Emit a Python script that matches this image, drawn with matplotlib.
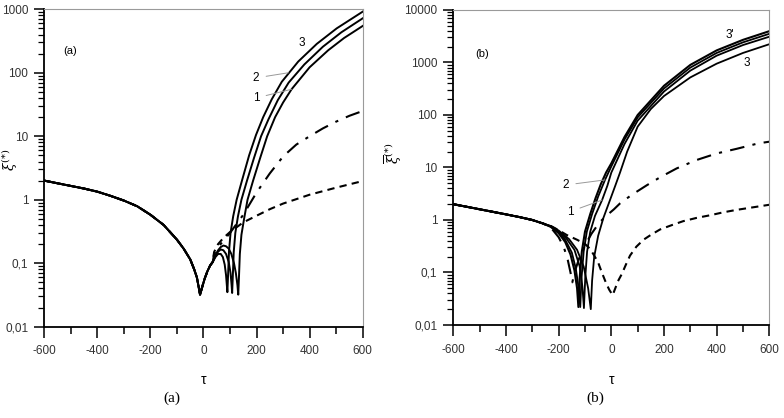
import matplotlib
matplotlib.use("Agg")
import matplotlib.pyplot as plt
from matplotlib.ticker import FixedLocator, NullFormatter, LogLocator

plt.rcParams['font.family'] = ['Liberation Sans', 'DejaVu Sans']
plt.rcParams['mathtext.fontset'] = 'dejavuserif'

# ---------------- panel (a) ----------------
# common left part (all curves together up to the first dip)
a_left_t = [-600, -500, -450, -400, -350, -300, -250, -200, -150, -100, -75, -50, -35, -25, -18, -13,
            -5, 5, 15, 25, 35]
a_left_x = [2.0, 1.65, 1.5, 1.34, 1.15, 0.97, 0.79, 0.58, 0.4, 0.235, 0.17, 0.115, 0.08, 0.06, 0.042, 0.032,
            0.042, 0.058, 0.075, 0.092, 0.105]

a3_t = [45, 55, 65, 73, 80, 85, 88, 90, 93, 96, 102, 112, 125, 145, 172, 198, 225, 257, 295, 357, 427, 502, 600]
a3_x = [0.125, 0.14, 0.14, 0.125, 0.095, 0.065, 0.045, 0.035, 0.07, 0.15, 0.3, 0.55, 1.0, 2.0, 5.0, 10.5, 20, 38, 72, 150, 285, 500, 917]

a2_t = [45, 55, 65, 75, 85, 95, 102, 106, 108, 111, 114, 120, 130, 143, 164, 190, 217, 245, 280, 321, 380, 450, 520, 600]
a2_x = [0.13, 0.152, 0.165, 0.16, 0.14, 0.105, 0.07, 0.045, 0.034, 0.07, 0.15, 0.3, 0.55, 1.0, 2.0, 4.5, 10, 18.5, 37, 70, 135, 257, 435, 720]

a1_t = [45, 55, 65, 75, 85, 95, 105, 115, 122, 128, 131, 134, 137, 143, 153, 166, 187, 214, 240, 270, 300, 332, 400, 470, 530, 600]
a1_x = [0.135, 0.16, 0.18, 0.19, 0.185, 0.17, 0.14, 0.1, 0.07, 0.045, 0.032, 0.065, 0.14, 0.28, 0.5, 1.0, 2.0, 4.6, 10, 20, 34, 55, 122, 226, 353, 546]

a_dash_t = [40, 55, 75, 100, 150, 200, 250, 300, 400, 500, 600]
a_dash_x = [0.15, 0.2, 0.25, 0.31, 0.44, 0.56, 0.71, 0.87, 1.2, 1.55, 1.97]

a_dd_t = [40, 60, 100, 150, 200, 250, 300, 350, 400, 450, 500, 550, 600]
a_dd_x = [0.14, 0.19, 0.3, 0.58, 1.3, 2.6, 4.8, 7.4, 10, 13.3, 17, 21, 25]

# ---------------- panel (b) ----------------
b_left_t = [-600, -500, -400, -350, -300, -260]
b_left_x = [2.0, 1.6, 1.28, 1.14, 1.0, 0.86]

b3p_t = [-230, -200, -175, -155, -140, -130, -125, -120, -112, -100, -80, -60, -40, -20, 0, 50, 100, 200, 300, 400, 500, 600]
b3p_x = [0.74, 0.56, 0.38, 0.22, 0.11, 0.05, 0.022, 0.08, 0.25, 0.6, 1.3, 2.6, 4.8, 8, 12, 38, 100, 360, 900, 1700, 2700, 3950]

b2_t = [-230, -200, -175, -150, -135, -124, -118, -113, -105, -93, -73, -50, -24, 0, 50, 100, 200, 300, 400, 500, 600]
b2_x = [0.75, 0.58, 0.42, 0.24, 0.12, 0.05, 0.022, 0.08, 0.25, 0.6, 1.3, 2.8, 5.8, 10.5, 34, 90, 320, 800, 1520, 2420, 3520]

b1_t = [-230, -200, -170, -140, -120, -110, -104, -99, -92, -80, -62, -35, -15, 0, 50, 100, 200, 300, 400, 500, 600]
b1_x = [0.76, 0.6, 0.44, 0.27, 0.13, 0.055, 0.021, 0.08, 0.25, 0.6, 1.2, 2.4, 4.5, 8, 28, 78, 280, 700, 1350, 2150, 3100]

b3_t = [-230, -200, -160, -130, -105, -88, -78, -73, -65, -50, -30, -5, 15, 33, 60, 100, 150, 200, 300, 400, 500, 600]
b3_x = [0.77, 0.63, 0.43, 0.27, 0.13, 0.05, 0.02, 0.07, 0.2, 0.5, 1.1, 2.4, 4.5, 8, 20, 60, 130, 230, 520, 950, 1520, 2230]

b_dash_t = [-230, -200, -170, -130, -100, -80, -65, -50, -36, -20, -8, 5, 15, 25, 40, 55, 71, 95, 122, 150, 185,
            230, 273, 325, 375, 425, 476, 540, 600]
b_dash_x = [0.77, 0.64, 0.52, 0.42, 0.35, 0.28, 0.21, 0.155, 0.1, 0.063, 0.047, 0.037, 0.05, 0.068, 0.094, 0.14, 0.21,
            0.31, 0.42, 0.52, 0.66, 0.8, 0.95, 1.1, 1.23, 1.4, 1.56, 1.75, 1.95]

b_dd_t = [-230, -200, -180, -165, -155, -148, -140, -120, -100, -75, -45, -15, 10, 33, 77, 135, 185, 248, 324, 400, 476, 558, 600]
b_dd_x = [0.72, 0.47, 0.3, 0.17, 0.1, 0.065, 0.1, 0.2, 0.33, 0.55, 0.9, 1.25, 1.6, 2.07, 3.0, 4.6, 6.5, 9.6, 13.9, 18.5, 22.7, 28.8, 31]

ytick_a = [0.01, 0.1, 1, 10, 100, 1000]
ytick_b = [0.01, 0.1, 1, 10, 100, 1000, 10000]
xtick = [-600, -400, -200, 0, 200, 400, 600]

DASH = (0, (3.5, 2.5))
DASHDOT = (0, (7, 4, 1.5, 4))


def estilo_ejes(ax, yticks):
    # ejes log con etiquetas con coma decimal
    ax.set_xlim(-600, 600)
    ax.set_yscale('log')
    ax.set_ylim(yticks[0], yticks[-1])
    ax.set_yticks(yticks)
    ax.set_yticklabels([str(v).replace('.', ',') for v in yticks])
    ax.yaxis.set_minor_locator(LogLocator(base=10, subs=range(2, 10), numticks=20))
    ax.yaxis.set_minor_formatter(NullFormatter())
    ax.set_xticks(xtick)
    ax.set_xticklabels([str(v) for v in xtick])
    ax.xaxis.set_minor_locator(FixedLocator(range(-500, 600, 200)))
    ax.tick_params(axis='y', which='major', direction='out', length=7, width=1.1, pad=4.5,
                   labelsize=8.5, labelcolor='#333333')
    ax.tick_params(axis='y', which='minor', direction='out', length=4.3, width=0.9)
    ax.tick_params(axis='x', which='major', direction='out', length=8, width=1.1, pad=5.5,
                   labelsize=8.5, labelcolor='#333333')
    ax.tick_params(axis='x', which='minor', direction='out', length=5, width=1.1)
    for s in ['left', 'bottom']:
        ax.spines[s].set_linewidth(1.3)
    for s in ['top', 'right']:
        ax.spines[s].set_color('#9a9a9a')
        ax.spines[s].set_linewidth(0.8)


fig = plt.figure(figsize=(7.84, 4.18), dpi=100)

# ----- (a) -----
axa = fig.add_axes([0.0565, 0.2184, 0.4061, 0.7594])
estilo_ejes(axa, ytick_a)
axa.plot(a_left_t + a_dash_t, a_left_x + a_dash_x, color='black', lw=1.5, ls=DASH)
axa.plot(a_left_t + a_dd_t, a_left_x + a_dd_x, color='black', lw=1.5, ls=DASHDOT)
axa.plot(a_left_t + a1_t, a_left_x + a1_x, color='black', lw=1.4)
axa.plot(a_left_t + a2_t, a_left_x + a2_x, color='black', lw=1.4)
axa.plot(a_left_t + a3_t, a_left_x + a3_x, color='black', lw=1.4)
axa.text(370, 292, '3', fontsize=8.5, ha='center', va='center')
axa.annotate('2', xy=(320, 100), xytext=(198, 83), fontsize=8.5, ha='center', va='center',
             arrowprops=dict(arrowstyle='-', color='#999999', lw=0.7, shrinkA=3, shrinkB=0))
axa.annotate('1', xy=(332, 55), xytext=(198, 40), fontsize=8.5, ha='center', va='center',
             arrowprops=dict(arrowstyle='-', color='#999999', lw=0.7, shrinkA=3, shrinkB=0))
axa.text(0.06, 0.87, '(a)', transform=axa.transAxes, fontsize=8, va='center')
axa.set_xlabel('τ', fontsize=10)
axa.xaxis.set_label_coords(0.5, -0.146)
axa.set_ylabel(r'$\xi^{(*)}$', fontsize=10)
axa.yaxis.set_label_coords(-0.075, 0.525)

# ----- (b) -----
axb = fig.add_axes([0.5782, 0.2225, 0.4031, 0.7536])
estilo_ejes(axb, ytick_b)
axb.plot(b_left_t + b_dash_t, b_left_x + b_dash_x, color='black', lw=1.5, ls=DASH)
axb.plot(b_left_t + b_dd_t, b_left_x + b_dd_x, color='black', lw=1.5, ls=DASHDOT)
axb.plot(b_left_t + b3_t, b_left_x + b3_x, color='black', lw=1.3)
axb.plot(b_left_t + b1_t, b_left_x + b1_x, color='black', lw=1.3)
axb.plot(b_left_t + b2_t, b_left_x + b2_x, color='black', lw=1.3)
axb.plot(b_left_t + b3p_t, b_left_x + b3p_x, color='black', lw=1.5)
axb.text(451, 3340, "3'", fontsize=8.5, ha='center', va='center')
axb.text(514, 966, '3', fontsize=8.5, ha='center', va='center')
axb.annotate('2', xy=(-24, 5.8), xytext=(-173, 4.64), fontsize=8.5, ha='center', va='center',
             arrowprops=dict(arrowstyle='-', color='#999999', lw=0.7, shrinkA=3, shrinkB=0))
axb.annotate('1', xy=(-35, 2.4), xytext=(-157, 1.44), fontsize=8.5, ha='center', va='center',
             arrowprops=dict(arrowstyle='-', color='#999999', lw=0.7, shrinkA=3, shrinkB=0))
axb.text(0.07, 0.86, '(b)', transform=axb.transAxes, fontsize=8, va='center')
axb.set_xlabel('τ', fontsize=10)
axb.xaxis.set_label_coords(0.5, -0.152)
axb.set_ylabel(r'$\overline{\xi}^{(*)}$', fontsize=10)
axb.yaxis.set_label_coords(-0.153, 0.546)

fig.text(172 / 784, 1 - 398 / 418, '(a)', family='Liberation Serif', fontsize=11, ha='center', va='center')
fig.text(595 / 784, 1 - 398 / 418, '(b)', family='Liberation Serif', fontsize=11, ha='center', va='center')

fig.savefig('out.png', dpi=100)
